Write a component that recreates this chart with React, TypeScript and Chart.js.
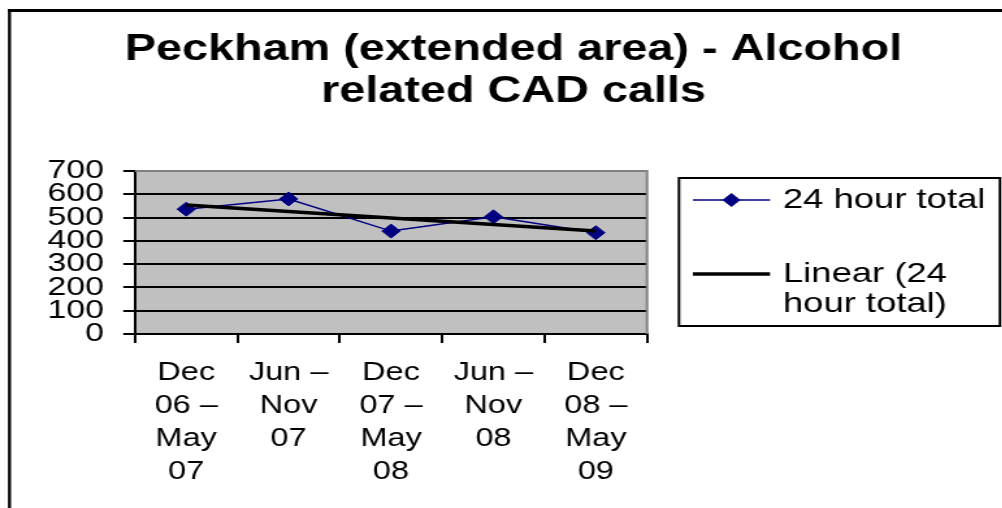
import React, { useEffect, useRef } from "react";
import { Chart, registerables } from "chart.js";

Chart.register(...registerables);

// ---------- data ----------
const TITLE_LINES = ["Peckham (extended area) - Alcohol", "related CAD calls"];
const CATEGORIES = [
  ["Dec", "06 –", "May", "07"],
  ["Jun –", "Nov", "07"],
  ["Dec", "07 –", "May", "08"],
  ["Jun –", "Nov", "08"],
  ["Dec", "08 –", "May", "09"],
];
const SERIES_LABEL = "24 hour total";
const SERIES_VALUES = [536, 580, 442, 503, 435];
const TREND_LABEL = "Linear (24 hour total)";
const TREND_LEGEND_LINES = ["Linear (24", "hour total)"];
const TREND_VALUES: (number | null)[] = [554, null, null, null, 442];
const Y_MIN = 0;
const Y_MAX = 700;
const Y_STEP = 100;

// ---------- styling ----------
const FONT = "'Liberation Sans', Arial, Helvetica, sans-serif";
const NAVY = "#000080";
const SX = 1.3; // horizontal stretch of the original picture
const CW = 790;
const CH = 520;

const decorPlugin = {
  id: "decor",
  beforeDraw(chart: any) {
    const { ctx, chartArea: a } = chart;
    ctx.save();
    ctx.fillStyle = "#ffffff";
    ctx.fillRect(0, 0, chart.width, chart.height);
    // outer chart frame
    ctx.fillStyle = "#000000";
    const fl = 6.15, ft = 9, tw = 2.3, th = 3;
    ctx.fillRect(fl, ft, tw, CH - 2 * ft);
    ctx.fillRect(fl, ft, CW - 2 * fl, th);
    ctx.fillRect(CW - fl - tw, ft, tw, CH - 2 * ft);
    ctx.fillRect(fl, CH - ft - th, CW - 2 * fl, th);
    // plot area
    ctx.fillStyle = "#c0c0c0";
    ctx.fillRect(a.left, a.top, a.right - a.left, a.bottom - a.top);
    ctx.restore();
  },
  beforeDatasetsDraw(chart: any) {
    const { ctx, chartArea: a } = chart;
    ctx.save();
    ctx.strokeStyle = "#808080";
    ctx.lineWidth = 2;
    ctx.beginPath();
    ctx.moveTo(a.left, a.top);
    ctx.lineTo(a.right, a.top);
    ctx.lineTo(a.right, a.bottom);
    ctx.stroke();
    ctx.restore();
  },
  afterDraw(chart: any) {
    const { ctx } = chart;
    const ds = chart.data.datasets;
    const series = ds[1];
    const trend = ds[0];
    ctx.save();
    // legend box
    const bl = 522.3, br = 769.2, bt = 178, bb = 326;
    ctx.strokeStyle = "#000";
    ctx.lineWidth = 2;
    ctx.strokeRect(bl, bt, br - bl, bb - bt);
    const lx0 = 533, lx1 = 592.3, tx = 602.3;
    ctx.font = `28px ${FONT}`;
    ctx.fillStyle = "#000";
    ctx.textBaseline = "middle";
    ctx.textAlign = "left";
    // entry 1
    const y1 = 200;
    ctx.strokeStyle = series.borderColor;
    ctx.lineWidth = series.borderWidth;
    ctx.beginPath();
    ctx.moveTo(lx0, y1);
    ctx.lineTo(lx1, y1);
    ctx.stroke();
    const cx = (lx0 + lx1) / 2;
    const r = series.pointRadius;
    ctx.fillStyle = series.pointBackgroundColor;
    ctx.beginPath();
    ctx.moveTo(cx, y1 - r);
    ctx.lineTo(cx + r, y1);
    ctx.lineTo(cx, y1 + r);
    ctx.lineTo(cx - r, y1);
    ctx.closePath();
    ctx.fill();
    ctx.fillStyle = "#000";
    ctx.fillText(series.label, tx, y1);
    // entry 2
    const y2 = 274;
    ctx.strokeStyle = trend.borderColor;
    ctx.lineWidth = trend.borderWidth;
    ctx.beginPath();
    ctx.moveTo(lx0, y2);
    ctx.lineTo(lx1, y2);
    ctx.stroke();
    TREND_LEGEND_LINES.forEach((t, i) => ctx.fillText(t, tx, y2 + i * 30));
    ctx.restore();
  },
};

export default function App() {
  const ref = useRef<HTMLCanvasElement>(null);

  useEffect(() => {
    if (!ref.current) return;
    const chart = new Chart(ref.current, {
      type: "line",
      data: {
        labels: CATEGORIES as any,
        datasets: [
          {
            label: TREND_LABEL,
            data: TREND_VALUES,
            borderColor: "#000000",
            borderWidth: 3.5,
            pointRadius: 0,
            pointHoverRadius: 0,
            spanGaps: true,
            fill: false,
            tension: 0,
            order: 0,
          },
          {
            label: SERIES_LABEL,
            data: SERIES_VALUES,
            borderColor: NAVY,
            backgroundColor: NAVY,
            borderWidth: 1.5,
            pointStyle: "rectRot",
            pointRadius: 7,
            pointHoverRadius: 7,
            pointBorderWidth: 1,
            pointBackgroundColor: NAVY,
            pointBorderColor: NAVY,
            fill: false,
            tension: 0,
            order: 1,
          },
        ],
      },
      options: {
        responsive: false,
        animation: false,
        devicePixelRatio: 1,
        events: [],
        layout: { padding: 0 },
        plugins: {
          legend: { display: false },
          tooltip: { enabled: false },
          title: {
            display: true,
            text: TITLE_LINES,
            color: "#000",
            font: { family: FONT, size: 36, weight: "bold", lineHeight: 42 / 36 },
            padding: { top: 29, bottom: 58 },
          },
        },
        scales: {
          x: {
            type: "category",
            offset: true,
            grid: {
              offset: true,
              drawOnChartArea: false,
              drawTicks: true,
              tickLength: 9,
              tickColor: "#000",
              tickWidth: 2,
              lineWidth: 2,
              color: "#000",
            },
            border: { display: true, color: "#000", width: 2 },
            ticks: {
              color: "#000",
              font: { family: FONT, size: 25, lineHeight: 33 / 25 },
              padding: 14,
              maxRotation: 0,
              minRotation: 0,
              autoSkip: false,
            },
            afterFit(s: any) {
              s.height = CH - 334;
            },
          },
          y: {
            type: "linear",
            position: "left",
            min: Y_MIN,
            max: Y_MAX,
            grid: {
              color: (c: any) => (c.tick && c.tick.value === Y_MAX ? "#808080" : "#000000"),
              lineWidth: 2,
              drawTicks: true,
              tickLength: 9,
              tickColor: "#000",
              tickWidth: 2,
            },
            border: { display: true, color: "#000", width: 2 },
            ticks: {
              stepSize: Y_STEP,
              autoSkip: false,
              color: "#000",
              font: { family: FONT, size: 26, lineHeight: 1 },
              padding: 15,
            },
            afterFit(s: any) {
              s.width = 103.85;
            },
          },
          yR: {
            type: "linear",
            position: "right",
            display: true,
            grid: { display: false, drawTicks: false },
            border: { display: false },
            ticks: { display: false },
            afterFit(s: any) {
              s.width = CW - 497.7;
            },
          },
        },
      } as any,
      plugins: [decorPlugin],
    });
    return () => chart.destroy();
  }, []);

  return (
    <div
      style={{
        position: "fixed",
        left: 0,
        top: 0,
        width: 1002,
        height: 508,
        overflow: "hidden",
        background: "#fff",
      }}
    >
      <canvas
        ref={ref}
        width={CW}
        height={CH}
        style={{
          width: CW,
          height: CH,
          display: "block",
          transform: `scaleX(${SX})`,
          transformOrigin: "0 0",
        }}
      />
    </div>
  );
}
